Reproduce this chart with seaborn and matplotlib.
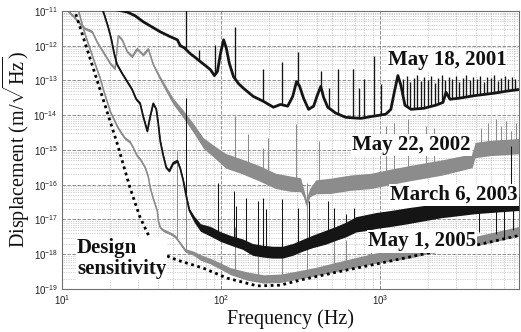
import numpy as np
import pandas as pd
import matplotlib
matplotlib.use("Agg")
import matplotlib.pyplot as plt
from matplotlib.ticker import LogLocator, NullFormatter, FixedLocator
import seaborn as sns

# ---------------- data ----------------
# frequency in Hz, displacement as log10(m/rtHz); spread = half width of the noisy band (decades)
design_freq = [11.6, 12.1, 16.4, 22.2, 26.8, 31.0, 37.5, 41.5, 53.2, 77.5, 110, 169, 237, 317,
               568, 1000, 2038, 4213, 7500]
design_log = [-10.74, -11.03, -12.91, -14.80, -16.09, -16.94, -17.74, -17.97, -18.17, -18.40,
              -18.69, -18.91, -18.89, -18.74, -18.49, -18.26, -17.96, -17.72, -17.46]

may2001_freq = [16.9, 18.7, 20.1, 22.2, 25.7, 28.9, 32.4, 35.9, 41.5, 48.0,
                53.2, 55.5, 58.8, 64.2, 69.0, 74.3, 79.8, 85.9, 91.0, 95.1,
                99.3, 104, 108, 113, 120, 129, 139, 160, 185, 214,
                237, 263, 283, 299, 313, 331, 356, 383, 406, 425,
                443, 470, 528, 610, 759, 903, 1091, 1173, 1243, 1299,
                1357, 1438, 1570, 1895, 2255, 2497, 2609, 2764, 3151, 4034,
                5164, 6236, 7500]
may2001_log = [-10.80, -10.91, -10.94, -10.97, -11.03, -11.14, -11.31, -11.43, -11.60, -11.74,
               -11.83, -12.00, -12.06, -12.23, -12.34, -12.46, -12.57, -12.69, -12.86, -12.74,
               -12.23, -11.83, -12.06, -12.51, -12.89, -13.09, -13.23, -13.46, -13.60, -13.77,
               -13.69, -13.74, -13.46, -13.03, -13.17, -13.51, -13.83, -13.74, -13.40, -13.17,
               -13.49, -13.77, -13.94, -14.06, -14.09, -14.03, -13.97, -13.83, -13.26, -12.86,
               -13.14, -13.71, -13.83, -13.80, -13.71, -13.63, -13.34, -13.54, -13.51, -13.43,
               -13.37, -13.31, -13.26]
may2001_spike_freq = [60, 73.2, 92.3, 123, 183, 244, 304, 425, 477, 543, 676, 737, 793, 916, 1015,
                      1397, 1481, 1546, 1639, 1712, 1815, 1895, 2008, 2098, 2223, 2322, 2462, 2570,
                      2724, 2847, 3017, 3151, 3339, 3488, 3696, 3862, 4093, 4275, 4531, 4733, 5016,
                      5240, 5553, 5800, 6147, 6421, 6806, 7112]
may2001_spike_log = [-10.60, -12.11, -11.97, -11.46, -12.66, -12.46, -12.17, -12.74, -13.23, -12.66,
                     -12.66, -13.23, -12.97, -12.31, -13.11,
                     -12.95, -12.88, -13.05, -12.92, -12.85, -13.02, -12.90, -12.98, -12.86, -13.06,
                     -12.93, -12.84, -13.00, -12.91, -12.97, -12.87, -13.04, -12.92, -12.83, -12.99,
                     -12.90, -12.96, -12.86, -13.03, -12.89, -12.94, -12.85, -13.01, -12.92, -12.88,
                     -12.97, -12.90, -12.95]

may2002_freq = [10.3, 10.9, 11.9, 13.0, 14.0, 14.6, 15.5, 16.6, 18.1, 20.1,
                21.6, 22.6, 23.9, 25.7, 27.6, 29.7, 32.4, 34.9, 37.5, 41.5,
                46.0, 50.1, 58.0, 67.1, 77.5, 89.7, 107, 133, 172, 221,
                274, 317, 331, 346, 362, 395, 491, 656, 878, 1173,
                1570, 2425, 3805, 3976, 5016, 7500]
may2002_log = [-10.74, -11.00, -11.17, -11.37, -11.51, -11.54, -11.60, -11.89, -12.17, -12.51,
               -12.66, -11.71, -11.83, -12.17, -12.31, -12.09, -12.26, -12.09, -12.54, -12.94,
               -13.31, -13.60, -13.97, -14.37, -14.80, -15.03, -15.31, -15.46, -15.66, -15.89,
               -15.97, -16.00, -16.23, -16.54, -16.23, -16.06, -16.03, -15.94, -15.89, -15.77,
               -15.66, -15.51, -15.31, -15.00, -14.94, -14.89]
may2002_spread = [0.04, 0.04, 0.04, 0.04, 0.04, 0.04, 0.04, 0.04, 0.04, 0.04,
                  0.04, 0.04, 0.04, 0.04, 0.04, 0.04, 0.04, 0.04, 0.04, 0.06,
                  0.08, 0.09, 0.11, 0.13, 0.15, 0.17, 0.21, 0.21, 0.22, 0.22,
                  0.22, 0.20, 0.12, 0.10, 0.12, 0.20, 0.22, 0.22, 0.22, 0.22,
                  0.22, 0.22, 0.20, 0.22, 0.22, 0.22]
may2002_spike_freq = [123, 149, 185, 199, 295, 412, 1091, 1225, 1502, 1951, 2191,
                      4337, 4801, 5394, 5800, 6236, 6706, 7210]
may2002_spike_log = [-14.03, -14.54, -14.94, -14.66, -14.26, -14.74, -14.31, -14.23, -14.11, -14.31,
                     -14.37, -14.37, -14.23, -14.11, -14.31, -14.17, -14.46, -14.23]

mar2003_freq = [17.4, 18.4, 19.5, 20.4, 21.3, 22.2, 23.9, 25.7, 27.6, 29.3, 31.0,
                32.4, 34.4, 35.9, 37.5, 39.2, 40.3, 41.5, 43.4, 45.3, 47.3,
                50.1, 53.2, 55.5, 58.0, 60.6, 63.3, 68.1, 74.3, 85.9, 99.3,
                115, 137, 158, 183, 211, 244, 283, 327, 378, 456,
                528, 610, 706, 816, 944, 1173, 1502, 2425, 4034, 7500]
mar2003_log = [-10.80, -11.09, -11.46, -11.80, -12.23, -12.54, -12.80, -13.03, -13.26, -13.54, -13.66,
               -14.03, -14.46, -14.03, -13.66, -13.83, -14.23, -14.74, -15.17, -15.51, -15.60,
               -15.37, -15.31, -15.54, -15.89, -16.34, -16.74, -17.00, -17.23, -17.34, -17.49,
               -17.60, -17.71, -17.86, -17.91, -17.94, -17.94, -17.86, -17.74, -17.63, -17.51,
               -17.40, -17.29, -17.14, -17.09, -17.03, -16.97, -16.89, -16.74, -16.63, -16.54]
mar2003_spread = [0.04, 0.04, 0.04, 0.04, 0.04, 0.04, 0.04, 0.04, 0.04, 0.04, 0.04,
                  0.04, 0.04, 0.04, 0.04, 0.04, 0.04, 0.04, 0.04, 0.04, 0.04,
                  0.04, 0.04, 0.04, 0.04, 0.04, 0.06, 0.09, 0.11, 0.14, 0.14,
                  0.14, 0.15, 0.17, 0.17, 0.17, 0.17, 0.17, 0.17, 0.18, 0.20,
                  0.20, 0.21, 0.22, 0.23, 0.23, 0.23, 0.23, 0.21, 0.20, 0.20]
mar2003_spike_freq = [60, 96.4, 120, 125, 143, 170, 185, 191, 244, 304, 356, 470, 513, 610, 686,
                      4213, 5394, 6057, 6706, 6904]
mar2003_spike_log = [-13.51, -15.94, -16.17, -16.60, -16.37, -16.46, -16.37, -16.69, -16.40, -16.66,
                     -16.46, -16.46, -16.66, -16.83, -16.66, -17.37, -17.43, -17.54, -14.89, -17.31]

may2005_freq = [12.3, 13.0, 14.0, 15.0, 16.1, 17.4, 18.1, 19.2, 20.1,
                22.2, 23.2, 24.9, 26.8, 28.1, 29.7, 31.0, 33.4, 34.9, 35.9,
                37.5, 38.6, 39.8, 40.3, 41.5, 43.4, 48.0, 51.6, 55.5, 59.7,
                67.1, 74.3, 85.9, 99.3, 115, 147, 185, 237, 304, 383,
                491, 628, 759, 944, 1502, 2038, 4213, 7500]
may2005_log = [-10.80, -11.17, -11.69, -12.09, -12.51, -12.94, -13.23, -13.60, -13.89,
               -14.31, -14.46, -14.66, -14.77, -14.94, -15.17, -15.26, -15.51, -15.77, -16.09,
               -16.40, -16.57, -16.77, -17.03, -17.23, -17.31, -17.40, -17.49, -17.69, -17.89,
               -17.97, -18.09, -18.20, -18.34, -18.49, -18.63, -18.71, -18.69, -18.60, -18.51,
               -18.40, -18.29, -18.20, -18.11, -17.97, -17.83, -17.60, -17.34]
may2005_spread = [0.04, 0.04, 0.04, 0.04, 0.04, 0.04, 0.04, 0.04, 0.04,
                  0.04, 0.04, 0.04, 0.04, 0.04, 0.04, 0.04, 0.04, 0.04, 0.04,
                  0.04, 0.04, 0.04, 0.04, 0.04, 0.04, 0.04, 0.04, 0.04, 0.05,
                  0.06, 0.08, 0.08, 0.09, 0.10, 0.12, 0.12, 0.12, 0.12, 0.12,
                  0.13, 0.14, 0.14, 0.15, 0.15, 0.15, 0.14, 0.14]
may2005_spike_freq = [53.2, 60, 123, 170, 244, 346, 513, 610, 878]
may2005_spike_log = [-15.03, -16.46, -17.23, -17.31, -17.51, -15.94, -17.40, -17.60, -17.46]

labels = ["May 18, 2001", "May 22, 2002", "March 6, 2003", "May 1, 2005", "Design\nsensitivity"]
x_ticks = [10, 100, 1000]
y_ticks = [1e-19, 1e-18, 1e-17, 1e-16, 1e-15, 1e-14, 1e-13, 1e-12, 1e-11]

# ---------------- style ----------------
sns.set_theme(style="white")
plt.rcParams["font.family"] = ["Liberation Sans", "DejaVu Sans"]
plt.rcParams["mathtext.fontset"] = "custom"
plt.rcParams["mathtext.rm"] = "Liberation Serif"
SERIF = ["Liberation Serif", "DejaVu Serif"]
BLACK = "#151515"
GRAY = "#8c8c8c"

fig = plt.figure(figsize=(5.21, 3.32), dpi=100)
ax = fig.add_axes([0.119, 0.1295, 0.877, 0.8375])
ax.set_xscale("log")
ax.set_yscale("log")


def draw(freq, logv, spread, color, lw, z):
    f = np.asarray(freq, float)
    c = np.asarray(logv, float)
    df = pd.DataFrame({"f": f, "v": 10 ** c})
    if spread is not None:
        s = np.asarray(spread, float)
        ax.fill_between(f, 10 ** (c - s), 10 ** (c + s), color=color, lw=0, zorder=z)
    sns.lineplot(data=df, x="f", y="v", color=color, lw=lw, ax=ax, zorder=z,
                 estimator=None, sort=False)


def spikes(freq, peak, sf, slog, color, z, lw=0.75):
    fr = np.asarray(freq, float)
    base = np.interp(np.log10(fr), np.log10(np.asarray(sf, float)), np.asarray(slog, float))
    ax.vlines(fr, 10 ** base, 10 ** np.asarray(peak, float), color=color, lw=lw, zorder=z)


draw(may2002_freq, may2002_log, may2002_spread, GRAY, 1.1, 2)
spikes(may2002_spike_freq, may2002_spike_log, may2002_freq, may2002_log, GRAY, 2)
draw(may2001_freq, may2001_log, None, BLACK, 2.0, 3)
spikes(may2001_spike_freq, may2001_spike_log, may2001_freq, may2001_log, BLACK, 3, lw=0.95)
draw(may2005_freq, may2005_log, may2005_spread, GRAY, 1.1, 4)
spikes(may2005_spike_freq, may2005_spike_log, may2005_freq, may2005_log, GRAY, 4)
draw(mar2003_freq, mar2003_log, mar2003_spread, BLACK, 1.3, 5)
spikes(mar2003_spike_freq, mar2003_spike_log, mar2003_freq, mar2003_log, BLACK, 5)

ddf = pd.DataFrame({"f": design_freq, "v": 10 ** np.asarray(design_log)})
sns.lineplot(data=ddf, x="f", y="v", color="black", lw=2.0, ax=ax, zorder=6,
             linestyle=(0, (1, 1.3)), estimator=None, sort=False)

ax.set_xlim(10, 7500)
ax.set_ylim(1e-19, 1e-11)

ax.xaxis.set_major_locator(FixedLocator(x_ticks))
ax.yaxis.set_major_locator(FixedLocator(y_ticks))
for axis in (ax.xaxis, ax.yaxis):
    axis.set_minor_locator(LogLocator(base=10, subs=np.arange(2, 10) * 1.0, numticks=200))
    axis.set_minor_formatter(NullFormatter())

ax.set_axisbelow(True)
ax.grid(True, which="major", linestyle=(0, (4, 2)), color="#7a7a7a", lw=0.6)
ax.grid(True, which="minor", linestyle=(0, (1, 1.5)), color="#a8a8a8", lw=0.5)
ax.tick_params(which="both", length=0, pad=3, labelsize=7, labelcolor="#222222")
for sp in ax.spines.values():
    sp.set_color("#707070")
    sp.set_linewidth(0.8)

ax.set_xlabel("Frequency (Hz)", fontsize=14.5, family=SERIF, labelpad=2, color="#111111")
ax.set_ylabel(r"Displacement (m/$\sqrt{\mathrm{Hz}}$)", fontsize=14.5, family=SERIF,
              labelpad=1, color="#111111")

box = dict(facecolor="white", edgecolor="none", pad=0.8)
pos = [(0.713, 0.825), (0.635, 0.518), (0.718, 0.339), (0.670, 0.171), (0.033, 0.111)]
for txt, (px, py) in zip(labels, pos):
    ax.text(px, py, txt, transform=ax.transAxes, fontsize=15, fontweight="bold",
            family=SERIF, ha="left", va="center", bbox=box, zorder=10,
            linespacing=1.05, color="#111111")

fig.savefig("out.png", dpi=100)
